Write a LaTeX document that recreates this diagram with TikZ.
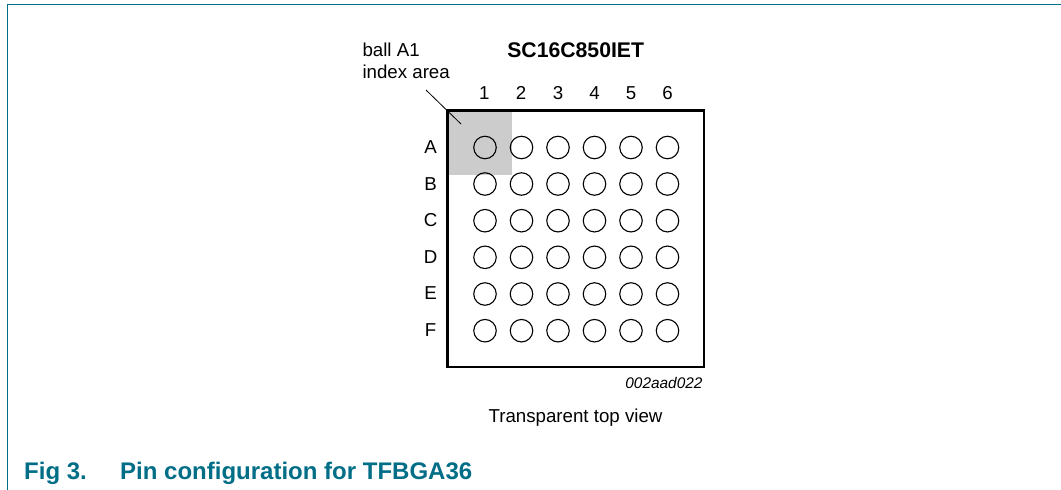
\documentclass[tikz,border=0pt]{standalone}
\usepackage{fontspec}
\setmainfont{Liberation Sans}
\definecolor{frameteal}{RGB}{0,110,135}
\definecolor{indexgray}{RGB}{204,204,204}
\tikzset{
  lbl/.style={inner sep=0pt,anchor=base,font=\fontsize{18.7}{22}\selectfont,text=black},
  ball/.style={circle,draw=black,line width=1.1pt,minimum size=22.5pt,inner sep=0pt,outer sep=0pt},
  cap text/.style={inner sep=0pt,anchor=base west,font=\fontsize{24}{28}\selectfont\bfseries,text=frameteal}
}
\begin{document}
\begin{tikzpicture}[x=1pt,y=-1pt]
\useasboundingbox (0,0) rectangle (1061,490);
\draw[frameteal,line width=1.1pt] (7.4,490) -- (7.4,4.7) -- (1061,4.7);
\fill[indexgray] (448,111) rectangle (511.7,175);
\coordinate (leadA) at (426,90);
\coordinate (leadB) at (461,124);
\draw[black,line width=0.8pt] (leadA) -- (leadB);
\node[draw=black,line width=2.8pt,minimum width=256.3pt,minimum height=256.5pt,inner sep=0pt,outer sep=0pt,anchor=north west] (pkg) at (447.7,110.5) {};
\foreach \c/\x/\lx in {1/485/484.3,2/521.5/521,3/558/558,4/594.5/594.5,5/631/631,6/667.5/667.5}{
  \node[lbl] (col\c) at (\lx,99.3) {\c};
  \foreach \r/\y in {A/147.5,B/184,C/220.7,D/257.3,E/294,F/330.7}{
    \node[ball] (b\r\c) at (\x,\y) {};
  }
}
\foreach \r/\y in {A/153.5,B/190,C/226.7,D/263.3,E/299.7,F/336}{
  \node[lbl] (row\r) at (430.5,\y) {\r};
}
\node[lbl,anchor=base west] (ballA) at (362.3,56) {ball A1};
\node[lbl,anchor=base west] (index) at (362.3,78) {index area};
\node[lbl,font=\fontsize{21.2}{24}\selectfont\bfseries] (title) at (575.7,57.3) {SC16C850IET};
\node[lbl,anchor=base east,font=\fontsize{15.4}{18}\selectfont\itshape] (code) at (702.7,388.3) {002aad022};
\node[lbl] (view) at (575.5,422.7) {Transparent top view};
\node[cap text] (fig) at (24,479.3) {Fig 3.};
\node[cap text] (cap) at (120,479.3) {Pin configuration for TFBGA36};
\end{tikzpicture}
\end{document}
